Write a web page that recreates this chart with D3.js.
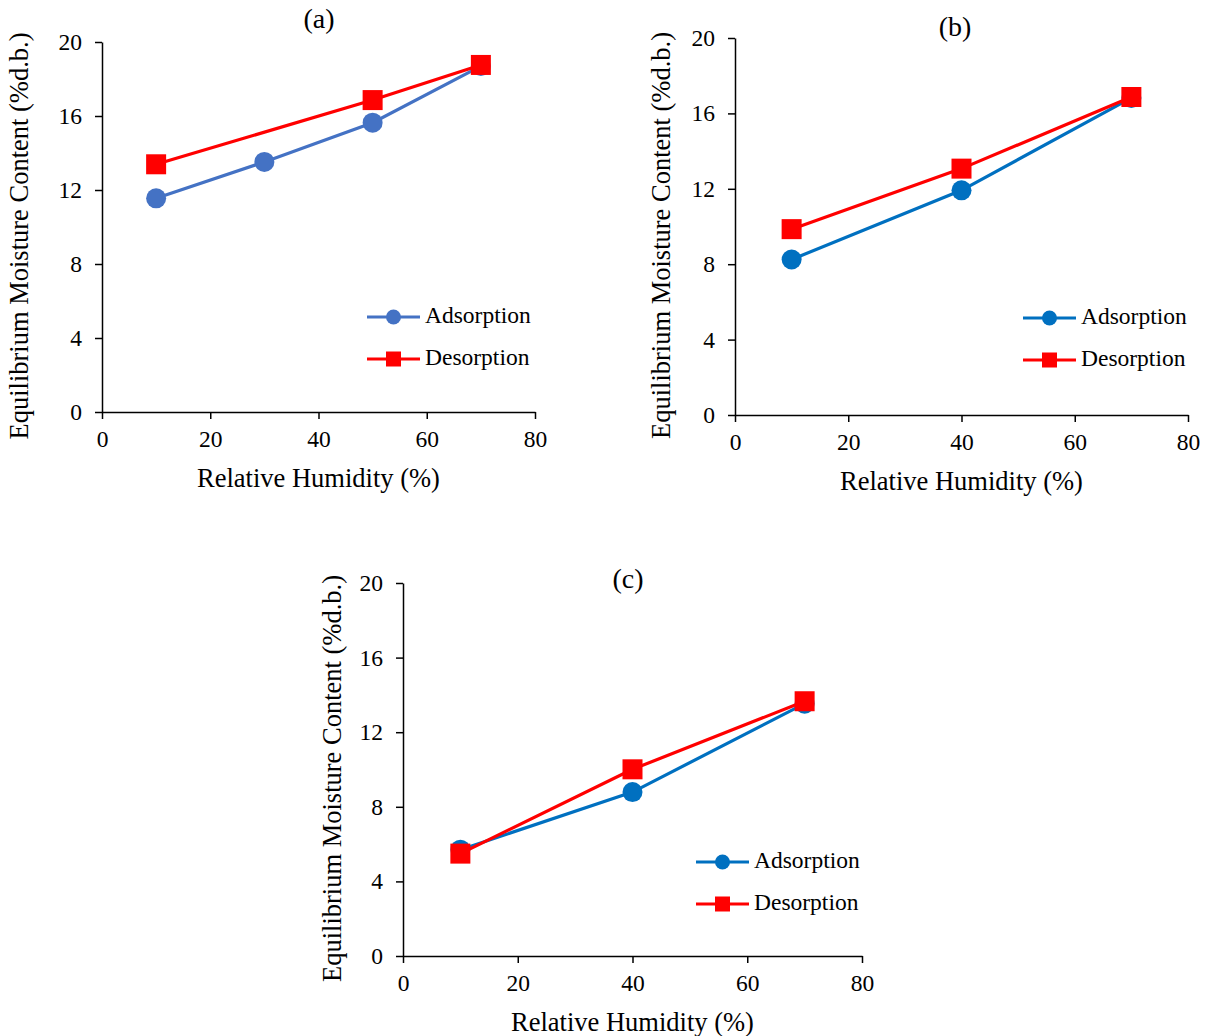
<!DOCTYPE html>
<html>
<head>
<meta charset="utf-8">
<script src="https://cdn.jsdelivr.net/npm/d3@7"></script>
<style>
  body { margin: 0; background: #fff; }
  text { font-family: "Liberation Serif", "Times New Roman", serif; fill: #000; }
</style>
</head>
<body>
<svg id="chart" width="1206" height="1036"></svg>
<script>
// values
const xTicks = [0, 20, 40, 60, 80];
const yTicks = [0, 4, 8, 12, 16, 20];

const rhA = [10, 30, 50, 70];
const adsA = [11.55, 13.52, 15.64, 18.7];
const rhDesA = [10, 50, 70];
const desA = [13.39, 16.86, 18.76];

const rhB = [10, 40, 70];
const adsB = [8.25, 11.92, 16.82];
const desB = [9.86, 13.07, 16.87];

const rhC = [10, 40, 70];
const adsC = [5.7, 8.79, 13.53];
const desC = [5.49, 10.01, 13.66];

const panels = [
    { label: "(a)", left: 102, right: 535, top: 42, bottom: 412, adsColor: "#4472C4",
      ads: rhA.map((x, i) => [x, adsA[i]]), des: rhDesA.map((x, i) => [x, desA[i]]),
      legendX: 367, legendY: 317, titleX: 319, titleY: 22, yTitleX: 22 },
    { label: "(b)", left: 735, right: 1188, top: 38, bottom: 415, adsColor: "#0070C0",
      ads: rhB.map((x, i) => [x, adsB[i]]), des: rhB.map((x, i) => [x, desB[i]]),
      legendX: 1023, legendY: 318, titleX: 955, titleY: 30, yTitleX: 664 },
    { label: "(c)", left: 403, right: 862, top: 583, bottom: 956, adsColor: "#0070C0",
      ads: rhC.map((x, i) => [x, adsC[i]]), des: rhC.map((x, i) => [x, desC[i]]),
      legendX: 696, legendY: 862, titleX: 628, titleY: 582, yTitleX: 335 }
];

const svg = d3.select("#chart");

panels.forEach(p => {
    const g = svg.append("g");
    const x = d3.scaleLinear().domain([0, 80]).range([p.left, p.right]);
    const y = d3.scaleLinear().domain([0, 20]).range([p.bottom, p.top]);

    const xAxis = g.append("g")
        .attr("transform", `translate(0,${p.bottom})`)
        .call(d3.axisBottom(x).tickValues(xTicks).tickSize(7).tickPadding(11).tickSizeOuter(0));
    const yAxis = g.append("g")
        .attr("transform", `translate(${p.left},0)`)
        .call(d3.axisLeft(y).tickValues(yTicks).tickSize(7).tickPadding(13).tickSizeOuter(0));

    [xAxis, yAxis].forEach(a => {
        a.select(".domain").attr("stroke", "#000").attr("stroke-width", 1.5);
        a.selectAll(".tick line").attr("stroke", "#000").attr("stroke-width", 1.5);
        a.selectAll(".tick text")
            .style("font-family", "'Liberation Serif', 'Times New Roman', serif")
            .style("font-size", "23.5px");
    });

    // panel label
    g.append("text")
        .attr("x", p.titleX)
        .attr("y", p.titleY)
        .attr("text-anchor", "middle")
        .attr("dominant-baseline", "middle")
        .style("font-size", "28px")
        .text(p.label);

    g.append("text")
        .attr("x", (p.left + p.right) / 2)
        .attr("y", p.bottom + 75)
        .attr("text-anchor", "middle")
        .style("font-size", "26.5px")
        .text("Relative Humidity (%)");

    g.append("text")
        .attr("transform", `translate(${p.yTitleX},${(p.top + p.bottom) / 2 + 9}) rotate(-90)`)
        .attr("text-anchor", "middle")
        .attr("dominant-baseline", "middle")
        .style("font-size", "26.5px")
        .text("Equilibrium Moisture Content (%d.b.)");

    const line = d3.line().x(d => x(d[0])).y(d => y(d[1]));

    g.append("path").datum(p.ads)
        .attr("d", line).attr("fill", "none")
        .attr("stroke", p.adsColor).attr("stroke-width", 3.2);
    g.selectAll(".ads").data(p.ads).enter().append("circle")
        .attr("cx", d => x(d[0])).attr("cy", d => y(d[1]))
        .attr("r", 10).attr("fill", p.adsColor);

    g.append("path").datum(p.des)
        .attr("d", line).attr("fill", "none")
        .attr("stroke", "#FF0000").attr("stroke-width", 3.2);
    g.selectAll(".des").data(p.des).enter().append("rect")
        .attr("x", d => x(d[0]) - 10).attr("y", d => y(d[1]) - 10)
        .attr("width", 20).attr("height", 20).attr("fill", "#FF0000");

    // legend
    const items = [
        { name: "Adsorption", color: p.adsColor, shape: "circle" },
        { name: "Desorption", color: "#FF0000", shape: "square" }
    ];
    items.forEach((it, i) => {
        const ly = p.legendY + i * 42;
        g.append("line")
            .attr("x1", p.legendX).attr("x2", p.legendX + 53)
            .attr("y1", ly).attr("y2", ly)
            .attr("stroke", it.color).attr("stroke-width", 3.2);
        if (it.shape === "circle") {
            g.append("circle").attr("cx", p.legendX + 26.5).attr("cy", ly)
                .attr("r", 7.5).attr("fill", it.color);
        } else {
            g.append("rect").attr("x", p.legendX + 19).attr("y", ly - 7.5)
                .attr("width", 15).attr("height", 15).attr("fill", it.color);
        }
        g.append("text")
            .attr("x", p.legendX + 58).attr("y", ly + 1)
            .attr("dominant-baseline", "middle")
            .style("font-size", "23.5px")
            .text(it.name);
    });
});
</script>
</body>
</html>
